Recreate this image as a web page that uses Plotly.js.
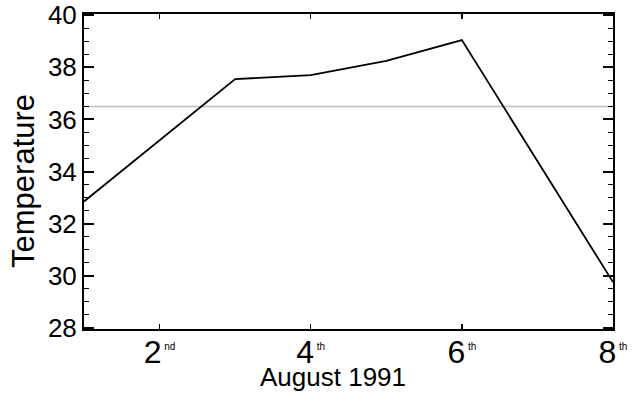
<!DOCTYPE html>
<html>
<head>
<meta charset="utf-8">
<script src="https://cdn.plot.ly/plotly-3.0.1.min.js"></script>
<style>html,body{margin:0;padding:0;background:#fff;}#chart{width:632px;height:395px;}</style>
</head>
<body>
<div id="chart"></div>
<script>
const days = [1, 2, 3, 4, 5, 6, 7, 8];
const temperature = [32.85, 35.2, 37.55, 37.7, 38.25, 39.05, 34.4, 29.75];
const referenceLevel = 36.5;
const tickDays = [2, 4, 6, 8];
const tickDigits = ['2', '4', '6', '8'];
const tickSuffixes = ['nd', 'th', 'th', 'th'];
const yTicks = [28, 30, 32, 34, 36, 38, 40];
const xTitle = 'August 1991';
const yTitle = 'Temperature';

const font = 'Liberation Sans, Arial, sans-serif';
const tickText = tickDigits.map((d, i) => d + '\u200A<sup><span style="font-size:10px">' + tickSuffixes[i] + '</span></sup>');

const traces = [
  {x: [days[0], days[days.length - 1]], y: [referenceLevel, referenceLevel], mode: 'lines',
   line: {color: '#bdbdbd', width: 1.5}, hoverinfo: 'skip', showlegend: false},
  {x: days, y: temperature, mode: 'lines', line: {color: '#000', width: 1.8}, showlegend: false}
];

const layout = {
  width: 632, height: 395,
  margin: {l: 84, r: 19, t: 14, b: 66},
  paper_bgcolor: '#fff', plot_bgcolor: '#fff',
  showlegend: false,
  font: {family: font, color: '#000'},
  xaxis: {
    range: [1, 8], tickmode: 'array', tickvals: tickDays, ticktext: tickText,
    ticks: 'inside', ticklen: 5, tickwidth: 1.5, tickcolor: '#000',
    showline: true, linecolor: '#000', linewidth: 2, mirror: 'ticks',
    showgrid: false, zeroline: false, tickfont: {size: 32, family: font},
    ticklabelstandoff: -6
  },
  yaxis: {
    range: [27.95, 40.05], tickmode: 'array', tickvals: yTicks,
    ticks: 'inside', ticklen: 10, tickwidth: 2, tickcolor: '#000',
    minor: {dtick: 0.5, ticks: 'inside', ticklen: 5, tickwidth: 1.5, tickcolor: '#000', showgrid: false},
    showline: true, linecolor: '#000', linewidth: 2, mirror: 'ticks',
    showgrid: false, zeroline: false, tickfont: {size: 26, family: font}
  },
  annotations: [
    {text: yTitle, xref: 'paper', yref: 'paper', x: -0.1134, y: 0.47, textangle: -90,
     showarrow: false, font: {size: 31, family: font}, xanchor: 'center', yanchor: 'middle'},
    {text: xTitle, xref: 'paper', yref: 'paper', x: 0.4707, y: -0.152,
     showarrow: false, font: {size: 26, family: font}, xanchor: 'center', yanchor: 'middle'}
  ]
};

Plotly.newPlot('chart', traces, layout, {displayModeBar: false, staticPlot: true});
</script>
</body>
</html>
